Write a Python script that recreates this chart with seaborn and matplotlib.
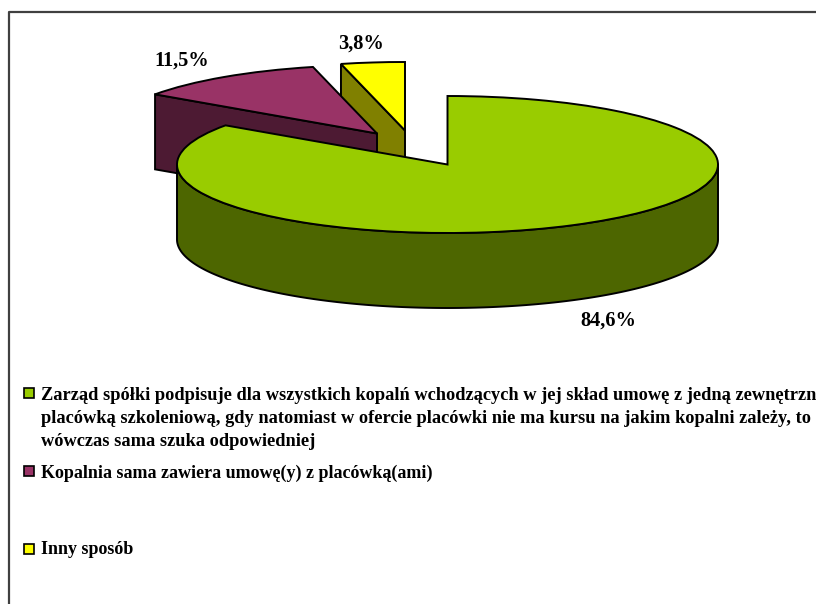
import numpy as np
import seaborn as sns
import matplotlib.pyplot as plt
from matplotlib.patches import Rectangle
from matplotlib.transforms import Affine2D

shares = [84.6, 11.5, 3.8]
share_labels = ['84,6%', '11,5%', '3,8%']
legend_labels = [
    'Zarząd spółki podpisuje dla wszystkich kopalń wchodzących w jej skład umowę z jedną zewnętrzną\n'
    'placówką szkoleniową, gdy natomiast w ofercie placówki nie ma kursu na jakim kopalni zależy, to\n'
    'wówczas sama szuka odpowiedniej',
    'Kopalnia sama zawiera umowę(y) z placówką(ami)',
    'Inny sposób',
]
top_colors = ['#99CC00', '#993366', '#FFFF00']
side_colors = ['#4D6600', '#4D1A33', '#808000']

# pixel layout of the fake 3d pie
cx, cy = 447.5, 164.5
rx, ry = 270.5, 68.5
depth = 75
shifts = [(0, 0), (-70.5, -31), (-42.5, -34)]
label_pos = [(608.5, 321), (182, 61), (361, 44)]
legend_y = [392.5, 470.5, 548.5]
text_y = [396, 474, 550]
text_size = [13.2, 12.95, 12.95]

sns.set_theme(style='white')
plt.rcParams['font.family'] = ['Liberation Serif', 'DejaVu Serif']

fig = plt.figure(figsize=(8.16, 6.04), dpi=100)
ax = fig.add_axes([0, 0, 1, 1])

wedges, _ = ax.pie(shares, startangle=90, counterclock=False, colors=top_colors,
                   wedgeprops={'edgecolor': 'black', 'linewidth': 1.4})


def ell(theta, dx, dy, down=0):
    t = np.radians(theta)
    return cx + dx + rx * np.cos(t), cy + dy - ry * np.sin(t) + down


# draw back to front: yellow, burgundy, green
for i in [2, 1, 0]:
    w = wedges[i]
    dx, dy = shifts[i]
    base = 10 - 3 * i
    w.set_transform(Affine2D().scale(rx, -ry).translate(cx + dx, cy + dy) + ax.transData)
    w.set_zorder(base + 1)
    if i == 0:
        # round outer wall, only the front half shows
        th = np.linspace(180, 360, 200)
        x, y = ell(th, dx, dy)
        ax.fill(np.r_[x, x[::-1]], np.r_[y, y[::-1] + depth], facecolor=side_colors[i],
                edgecolor='black', linewidth=1.4, zorder=base)
    else:
        # flat cut face along the clockwise start of the slice
        ox, oy = ell(w.theta2, dx, dy)
        ax.fill([ox, cx + dx, cx + dx, ox], [oy, cy + dy, cy + dy + depth, oy + depth],
                facecolor=side_colors[i], edgecolor='black', linewidth=1.4, zorder=base)

for lab, (x, y) in zip(share_labels, label_pos):
    ax.text(x, y, lab, ha='center', va='center', fontsize=14.7, fontweight='bold',
            color='black', zorder=20)

for lab, col, y0, y1, fs in zip(legend_labels, top_colors, legend_y, text_y, text_size):
    ax.add_patch(Rectangle((24, y0 - 5), 10, 10, facecolor=col, edgecolor='black',
                           linewidth=1.2, zorder=20))
    ax.text(41, y1 - 9, lab, ha='left', va='top', fontsize=fs, fontweight='bold',
            color='black', linespacing=1.47, zorder=20)

# chart frame, it runs off the right and the bottom of the picture
ax.plot([9, 9, 816], [604, 12, 12], color='#404040', linewidth=1.6, zorder=25)

ax.set_xlim(0, 816)
ax.set_ylim(604, 0)
ax.set_aspect('auto')
ax.axis('off')
fig.savefig('out.png', dpi=100)
